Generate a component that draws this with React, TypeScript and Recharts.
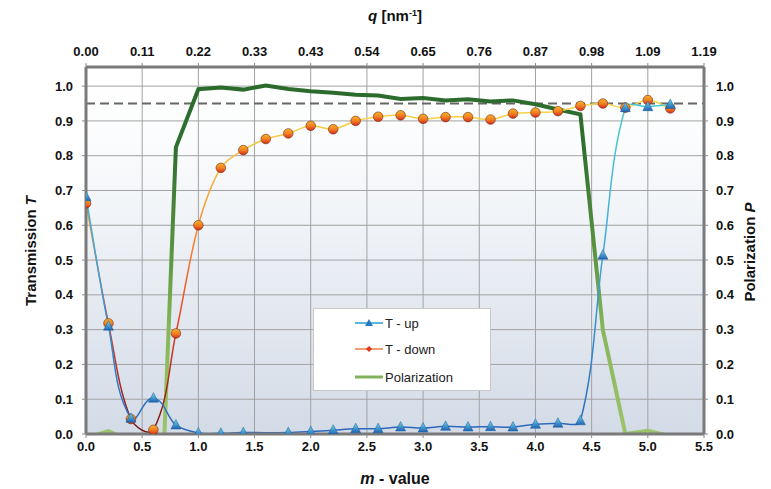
import React from "react";
import {
    LineChart,
    Line,
    XAxis,
    YAxis,
    CartesianGrid,
    ReferenceLine,
    Legend,
} from "recharts";

const FONT = '"Liberation Sans", Arial, Helvetica, sans-serif';

// m-values of the measured points
const mValues = [
    0, 0.2, 0.4, 0.6, 0.8, 1.0, 1.2, 1.4, 1.6, 1.8, 2.0, 2.2, 2.4, 2.6, 2.8, 3.0,
    3.2, 3.4, 3.6, 3.8, 4.0, 4.2, 4.4, 4.6, 4.8, 5.0, 5.2,
];

const tUp = [
    0.682, 0.31, 0.045, 0.103, 0.026, 0.003, 0.002, 0.004, null, 0.004, 0.007,
    0.011, 0.015, 0.015, 0.02, 0.017, 0.022, 0.02, 0.021, 0.02, 0.028, 0.031,
    0.038, 0.514, 0.938, 0.941, 0.947,
];

const tDown = [
    0.663, 0.318, 0.043, 0.012, 0.289, 0.6, 0.765, 0.816, 0.848, 0.864, 0.886,
    0.876, 0.9, 0.912, 0.916, 0.906, 0.911, 0.911, 0.904, 0.921, 0.924, 0.928,
    0.943, 0.95, 0.938, 0.96, 0.936,
];

const polarization = [
    -0.011, 0.008, -0.02, -0.79, 0.824, 0.991, 0.996, 0.99, 1.002, 0.992, 0.985,
    0.981, 0.975, 0.973, 0.963, 0.966, 0.959, 0.962, 0.956, 0.959, 0.948, 0.933,
    0.919, 0.299, 0.0, 0.009, -0.006,
];

const mTicks = [0, 0.5, 1.0, 1.5, 2.0, 2.5, 3.0, 3.5, 4.0, 4.5, 5.0, 5.5];
const qLabels = [
    "0.00", "0.11", "0.22", "0.33", "0.43", "0.54",
    "0.65", "0.76", "0.87", "0.98", "1.09", "1.19",
];
const tTicks = [0, 0.1, 0.2, 0.3, 0.4, 0.5, 0.6, 0.7, 0.8, 0.9, 1.0];
const mMinorTicks = Array.from({ length: 56 }, (_, i) => i / 10);
const tMinorTicks = Array.from({ length: 53 }, (_, i) => i / 50);
const targetP = 0.95;

const data = mValues.map((m, i) => ({
    m,
    up: tUp[i],
    down: tDown[i],
    pol: polarization[i],
}));

// excel-like smoothed line: tangent along neighbours, handle = 1/3 of the segment
const smooth = (context: any) => {
    let pts: number[][] = [];
    const tangent = (a: number[], b: number[]) => {
        const dx = b[0] - a[0];
        const dy = b[1] - a[1];
        const len = Math.hypot(dx, dy) || 1;
        return [dx / len, dy / len];
    };
    return {
        areaStart() {},
        areaEnd() {},
        lineStart() {
            pts = [];
        },
        lineEnd() {
            if (!pts.length) return;
            context.moveTo(pts[0][0], pts[0][1]);
            for (let i = 0; i < pts.length - 1; i++) {
                const p0 = pts[i - 1] || pts[i];
                const p1 = pts[i];
                const p2 = pts[i + 1];
                const p3 = pts[i + 2] || p2;
                const h = Math.hypot(p2[0] - p1[0], p2[1] - p1[1]) / 3;
                const t1 = tangent(p0, p2);
                const t2 = tangent(p1, p3);
                context.bezierCurveTo(
                    p1[0] + t1[0] * h,
                    p1[1] + t1[1] * h,
                    p2[0] - t2[0] * h,
                    p2[1] - t2[1] * h,
                    p2[0],
                    p2[1]
                );
            }
        },
        point(x: number, y: number) {
            pts.push([+x, +y]);
        },
    };
};

const tickStyle = { fill: "#111", fontSize: 13, fontWeight: 700, fontFamily: FONT };

const TriangleDot = (props: any) => {
    const { cx, cy, index } = props;
    if (cx == null || cy == null) return <g key={`u${index}`} />;
    return (
        <path
            key={`u${index}`}
            d={`M${cx},${cy - 5.5} L${cx + 5},${cy + 4} L${cx - 5},${cy + 4} Z`}
            fill="url(#upDot)"
            stroke="#1d5a9a"
            strokeWidth={0.5}
        />
    );
};

const RoundDot = (props: any) => {
    const { cx, cy, index } = props;
    if (cx == null || cy == null) return <g key={`d${index}`} />;
    return (
        <circle
            key={`d${index}`}
            cx={cx}
            cy={cy}
            r={4.8}
            fill="url(#downDot)"
            stroke="#6b2a10"
            strokeWidth={0.6}
        />
    );
};

const LegendBox = () => {
    const rows = [
        { name: "T - up", color: "#5bb8dc", width: 2, mark: "tri", y: 15 },
        { name: "T - down", color: "#f0a070", width: 2, mark: "dia", y: 41 },
        { name: "Polarization", color: "#80b35a", width: 3, mark: null, y: 69 },
    ];
    return (
        <div
            style={{
                width: 178,
                height: 83,
                background: "#fff",
                border: "1px solid #c8c8c8",
                boxSizing: "border-box",
                position: "relative",
                fontFamily: FONT,
                fontSize: 13,
                color: "#222",
            }}
        >
            {rows.map((r) => (
                <div key={r.name}>
                    <svg
                        width={30}
                        height={12}
                        style={{ position: "absolute", left: 41, top: r.y - 7 }}
                    >
                        <line x1={0} x2={28} y1={6} y2={6} stroke={r.color} strokeWidth={r.width} />
                        {r.mark === "tri" && (
                            <path d="M14,2 L18,9 L10,9 Z" fill="#2a78c4" />
                        )}
                        {r.mark === "dia" && (
                            <path d="M14,3 L17,6 L14,9 L11,6 Z" fill="#e0351e" />
                        )}
                    </svg>
                    <span
                        style={{
                            position: "absolute",
                            left: 71,
                            top: r.y - 9,
                            lineHeight: "18px",
                            whiteSpace: "nowrap",
                        }}
                    >
                        {r.name}
                    </span>
                </div>
            ))}
        </div>
    );
};

const titleStyle = { fill: "#111", fontSize: 15, fontWeight: 700, fontFamily: FONT };

export default function App() {
    return (
        <div style={{ position: "absolute", left: 0, top: 0, background: "#fff" }}>
            <LineChart
                width={771}
                height={489}
                data={data}
                margin={{ top: 37, right: 7, bottom: 25, left: 26 }}
            >
                <defs>
                    <linearGradient id="plotBg" x1="0" y1="0" x2="0" y2="1">
                        <stop offset="0%" stopColor="#ffffff" />
                        <stop offset="20%" stopColor="#fbfcfd" />
                        <stop offset="100%" stopColor="#d3dbe7" />
                    </linearGradient>
                    <linearGradient id="upStroke" gradientUnits="userSpaceOnUse" x1="0" y1="100" x2="0" y2="434">
                        <stop offset="0%" stopColor="#4ec9d2" />
                        <stop offset="45%" stopColor="#3eaadc" />
                        <stop offset="100%" stopColor="#2c66bc" />
                    </linearGradient>
                    <linearGradient id="downStroke" gradientUnits="userSpaceOnUse" x1="0" y1="100" x2="0" y2="434">
                        <stop offset="0%" stopColor="#f8d84a" />
                        <stop offset="20%" stopColor="#f8b83c" />
                        <stop offset="40%" stopColor="#f68a30" />
                        <stop offset="65%" stopColor="#e8442a" />
                        <stop offset="90%" stopColor="#a02018" />
                        <stop offset="100%" stopColor="#6e1410" />
                    </linearGradient>
                    <linearGradient id="polStroke" gradientUnits="userSpaceOnUse" x1="0" y1="86" x2="0" y2="434">
                        <stop offset="0%" stopColor="#2b6a2b" />
                        <stop offset="18%" stopColor="#2f702f" />
                        <stop offset="50%" stopColor="#5e9742" />
                        <stop offset="70%" stopColor="#88b65a" />
                        <stop offset="100%" stopColor="#9cc46c" />
                    </linearGradient>
                    <linearGradient id="upDot" x1="0" y1="0" x2="0" y2="1">
                        <stop offset="0%" stopColor="#6fd6ea" />
                        <stop offset="100%" stopColor="#1f64b4" />
                    </linearGradient>
                    <linearGradient id="downDot" x1="0" y1="0" x2="0" y2="1">
                        <stop offset="0%" stopColor="#f8b42a" />
                        <stop offset="55%" stopColor="#f07a22" />
                        <stop offset="100%" stopColor="#d8281c" />
                    </linearGradient>
                </defs>

                <CartesianGrid fill="url(#plotBg)" stroke="#a2a2a2" strokeWidth={1} />

                {/* minor tick axes */}
                <XAxis
                    xAxisId="mMinor"
                    type="number"
                    dataKey="m"
                    domain={[0, 5.5]}
                    allowDataOverflow
                    ticks={mMinorTicks}
                    tick={false}
                    axisLine={false}
                    tickLine={{ stroke: "#999" }}
                    tickSize={3}
                    height={0}
                />
                <XAxis
                    xAxisId="qMinor"
                    orientation="top"
                    type="number"
                    dataKey="m"
                    domain={[0, 5.5]}
                    allowDataOverflow
                    ticks={mMinorTicks}
                    tick={false}
                    axisLine={false}
                    tickLine={{ stroke: "#999" }}
                    tickSize={3}
                    height={0}
                />
                <YAxis
                    yAxisId="tMinor"
                    type="number"
                    domain={[0, 1.055]}
                    allowDataOverflow
                    ticks={tMinorTicks}
                    tick={false}
                    axisLine={false}
                    tickLine={{ stroke: "#999" }}
                    tickSize={3}
                    width={0}
                />
                <YAxis
                    yAxisId="pMinor"
                    orientation="right"
                    type="number"
                    domain={[0, 1.055]}
                    allowDataOverflow
                    ticks={tMinorTicks}
                    tick={false}
                    axisLine={false}
                    tickLine={{ stroke: "#999" }}
                    tickSize={3}
                    width={0}
                />

                <XAxis
                    type="number"
                    dataKey="m"
                    domain={[0, 5.5]}
                    allowDataOverflow
                    ticks={mTicks}
                    tickFormatter={(v) => v.toFixed(1)}
                    tick={tickStyle}
                    axisLine={{ stroke: "#7a7a7a", strokeWidth: 3 }}
                    tickLine={{ stroke: "#888" }}
                    tickSize={4}
                    tickMargin={4}
                    height={30}
                    label={{
                        content: () => (
                            <text x={395} y={484} textAnchor="middle" style={{ ...titleStyle, fontSize: 16 }}>
                                <tspan fontStyle="italic">m</tspan>
                                <tspan> - value</tspan>
                            </text>
                        ),
                    }}
                />
                <XAxis
                    xAxisId="q"
                    orientation="top"
                    type="number"
                    dataKey="m"
                    domain={[0, 5.5]}
                    allowDataOverflow
                    ticks={mTicks}
                    tickFormatter={(v) => qLabels[mTicks.indexOf(v)]}
                    tick={tickStyle}
                    axisLine={{ stroke: "#7a7a7a", strokeWidth: 3 }}
                    tickLine={{ stroke: "#888" }}
                    tickSize={4}
                    tickMargin={7}
                    height={30}
                    label={{
                        content: () => (
                            <text x={395} y={21} textAnchor="middle" style={titleStyle}>
                                <tspan fontStyle="italic">q</tspan>
                                <tspan> [nm</tspan>
                                <tspan dy={-5} fontSize={9}>-1</tspan>
                                <tspan dy={5}>]</tspan>
                            </text>
                        ),
                    }}
                />
                <YAxis
                    type="number"
                    domain={[0, 1.055]}
                    allowDataOverflow
                    ticks={tTicks}
                    tickFormatter={(v) => v.toFixed(1)}
                    tick={tickStyle}
                    axisLine={{ stroke: "#7a7a7a", strokeWidth: 3 }}
                    tickLine={{ stroke: "#888" }}
                    tickSize={4}
                    tickMargin={9}
                    width={60}
                    label={{
                        content: () => (
                            <text
                                x={36}
                                y={251}
                                textAnchor="middle"
                                transform="rotate(-90 36 251)"
                                style={titleStyle}
                            >
                                <tspan>Transmission </tspan>
                                <tspan fontStyle="italic">T</tspan>
                            </text>
                        ),
                    }}
                />
                <YAxis
                    yAxisId="P"
                    orientation="right"
                    type="number"
                    domain={[0, 1.055]}
                    allowDataOverflow
                    ticks={tTicks}
                    tickFormatter={(v) => v.toFixed(1)}
                    tick={tickStyle}
                    axisLine={{ stroke: "#7a7a7a", strokeWidth: 3 }}
                    tickLine={{ stroke: "#888" }}
                    tickSize={4}
                    tickMargin={8}
                    width={60}
                    label={{
                        content: () => (
                            <text
                                x={755}
                                y={252}
                                textAnchor="middle"
                                transform="rotate(-90 755 252)"
                                style={titleStyle}
                            >
                                <tspan>Polarization </tspan>
                                <tspan fontStyle="italic">P</tspan>
                            </text>
                        ),
                    }}
                />

                <ReferenceLine
                    y={targetP}
                    stroke="#666"
                    strokeWidth={2}
                    strokeDasharray="9 5"
                />

                <Line
                    yAxisId="P"
                    type="linear"
                    dataKey="pol"
                    name="Polarization"
                    stroke="url(#polStroke)"
                    strokeWidth={4}
                    dot={false}
                    isAnimationActive={false}
                />
                <Line
                    type={smooth as any}
                    dataKey="down"
                    name="T - down"
                    stroke="url(#downStroke)"
                    strokeWidth={1.5}
                    dot={RoundDot}
                    isAnimationActive={false}
                />
                <Line
                    type={smooth as any}
                    dataKey="up"
                    name="T - up"
                    stroke="url(#upStroke)"
                    strokeWidth={1.5}
                    connectNulls
                    dot={TriangleDot}
                    isAnimationActive={false}
                />

                <Legend
                    layout="vertical"
                    align="center"
                    verticalAlign="middle"
                    content={<LegendBox />}
                    wrapperStyle={{ left: 313, top: 308, width: 178, height: 83 }}
                />
            </LineChart>
        </div>
    );
}
